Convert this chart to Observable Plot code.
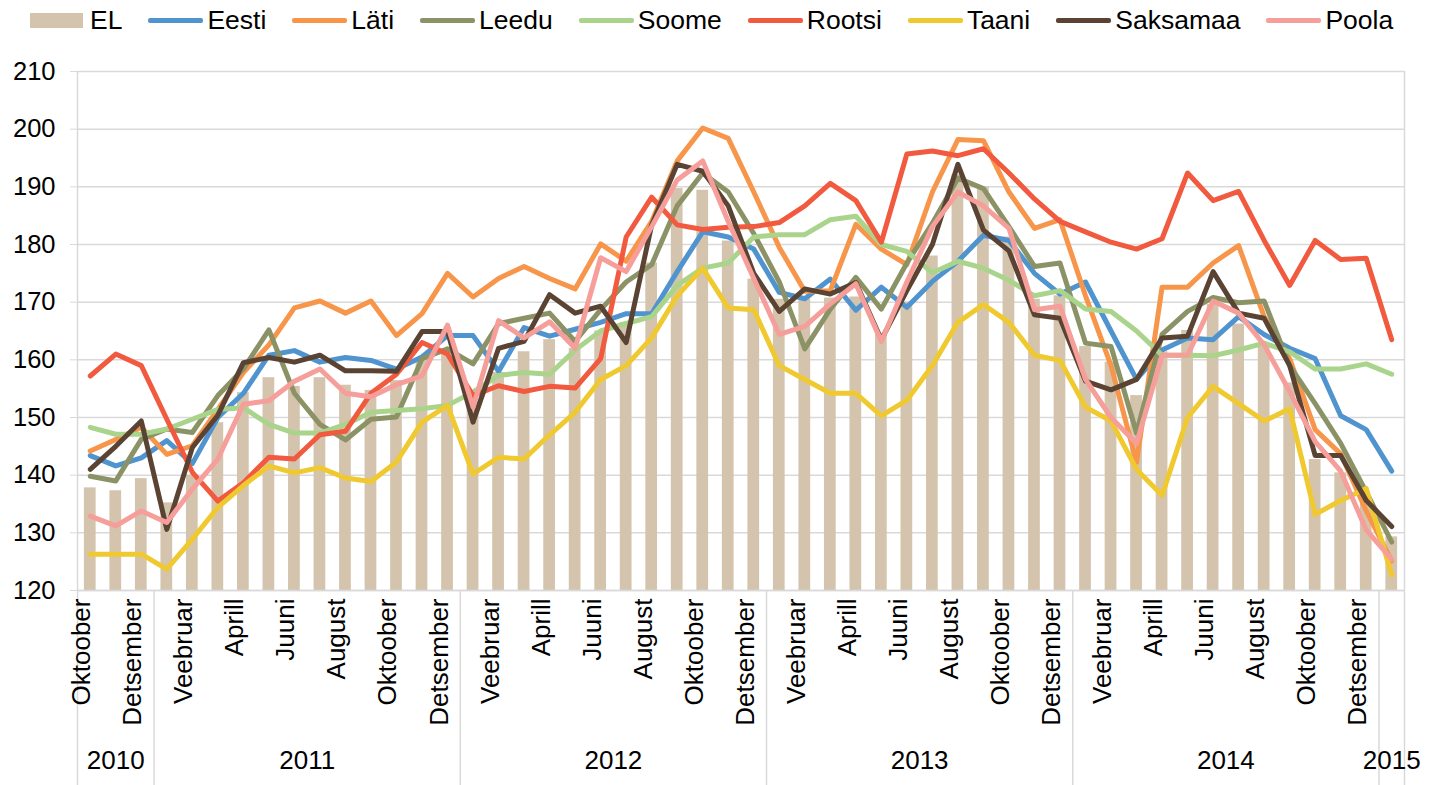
<!DOCTYPE html>
<html><head><meta charset="utf-8">
<script src="https://cdn.jsdelivr.net/npm/d3@7"></script>
<script src="https://cdn.jsdelivr.net/npm/@observablehq/plot@0.6"></script>
<style>
body{margin:0;background:#fff;font-family:"Liberation Sans",Arial,sans-serif;color:#000;}
#legend{height:40px;display:flex;align-items:center;padding-left:30px;font-size:26.5px;white-space:nowrap;}
.item{display:flex;align-items:center;margin-right:26px;}
.sw{width:55px;height:5px;margin-right:4px;border-radius:2px;}
.box{width:53px;height:15px;margin-right:7px;}
#chart svg{display:block;}
</style></head><body>
<div id="legend"></div><div id="chart"></div>
<script>
const months = [
 "Oktoober","November","Detsember",
 "Jaanuar","Veebruar","Märts","Aprill","Mai","Juuni","Juuli","August","September","Oktoober","November","Detsember",
 "Jaanuar","Veebruar","Märts","Aprill","Mai","Juuni","Juuli","August","September","Oktoober","November","Detsember",
 "Jaanuar","Veebruar","Märts","Aprill","Mai","Juuni","Juuli","August","September","Oktoober","November","Detsember",
 "Jaanuar","Veebruar","Märts","Aprill","Mai","Juuni","Juuli","August","September","Oktoober","November","Detsember",
 "Jaanuar"];
const years = ["2010","2011","2012","2013","2014","2015"];
const yearLengths = [3,12,12,12,12,1];
const yTicks = [120,130,140,150,160,170,180,190,200,210];

const EL = [137.8,137.3,139.4,135.2,140.0,149.1,154.3,156.9,155.4,156.9,155.6,154.7,156.4,160.2,161.0,153.5,
 157.8,161.4,163.5,162.0,165.0,166.5,176.8,189.7,189.4,180.6,174.0,170.5,
 170.6,170.7,170.9,164.4,170.0,178.0,192.1,190.0,181.3,170.5,171.1,162.3,
 159.6,153.8,161.4,165.1,169.6,166.2,162.6,156.0,142.7,140.4,135.0,129.3];
const Eesti = [143.4,141.6,143.0,146.0,142.0,150.0,154.2,160.8,161.6,159.6,160.4,159.9,158.4,160.5,164.2,164.2,
 158.0,165.6,164.1,165.3,166.5,168.0,168.0,175.3,182.2,181.3,179.2,171.7,
 170.6,174.0,168.6,172.6,169.1,173.6,177.1,181.6,180.7,175.0,171.4,173.5,
 165.0,156.6,161.7,163.8,163.5,167.5,164.4,162.0,160.2,150.3,147.9,140.7];
const Lati = [144.2,146.2,148.3,143.6,145.1,151.4,157.8,162.6,169.0,170.2,168.1,170.2,164.2,168.0,175.0,170.9,
 174.1,176.2,174.1,172.3,180.1,177.1,184.0,194.5,200.2,198.4,189.1,179.5,
 171.9,172.0,183.5,179.2,176.5,189.1,198.2,198.0,189.1,182.8,184.3,171.1,
 159.0,142.2,172.6,172.6,176.8,179.8,167.5,160.2,147.9,143.7,133.8,125.1];
const Leedu = [139.8,139.0,146.2,148.0,147.4,153.8,158.4,165.2,154.2,148.8,146.1,149.7,150.1,160.2,161.9,159.3,
 166.3,167.2,168.1,163.2,168.7,173.5,176.5,186.7,192.4,189.1,181.9,173.5,
 161.9,168.8,174.3,168.8,176.8,183.7,191.5,189.7,183.1,176.2,176.8,162.9,
 162.3,147.3,164.4,168.4,170.8,169.9,170.2,159.0,152.4,145.5,137.1,128.4];
const Soome = [148.3,147.1,147.1,148.0,149.7,151.4,151.7,148.8,147.3,147.3,148.8,150.9,151.2,151.5,152.1,154.4,
 157.3,157.8,157.5,161.7,165.0,166.3,167.5,172.9,175.9,176.8,181.3,181.7,
 181.7,184.3,184.9,180.0,178.8,175.1,177.1,175.9,173.8,171.1,172.0,168.8,
 168.4,165.0,160.8,160.8,160.7,161.7,162.9,161.4,158.4,158.4,159.3,157.5];
const Rootsi = [157.2,161.0,159.0,149.7,140.5,135.5,138.7,143.1,142.8,147.0,147.6,154.2,157.5,163.0,161.0,153.8,
 155.5,154.5,155.4,155.1,160.2,181.3,188.2,183.4,182.6,183.0,183.1,183.8,
 186.7,190.6,187.6,180.4,195.7,196.2,195.4,196.6,192.4,187.9,184.0,182.2,
 180.4,179.2,181.0,192.4,187.6,189.2,180.7,172.9,180.7,177.4,177.6,163.5];
const Taani = [126.3,126.3,126.3,123.7,128.9,134.4,138.2,141.6,140.4,141.3,139.5,138.9,142.3,149.2,152.1,140.2,
 143.1,142.8,147.0,150.9,156.6,159.0,163.8,171.1,175.9,169.0,168.7,159.0,
 156.6,154.2,154.2,150.3,153.0,159.0,166.5,169.6,166.5,160.8,159.9,151.8,
 149.4,141.0,136.5,150.0,155.4,152.4,149.4,151.5,133.2,135.6,137.7,122.7];
const Saksamaa = [141.0,145.0,149.4,130.6,144.8,150.4,159.5,160.4,159.6,160.8,158.1,158.1,158.0,164.9,164.9,149.2,
 162.0,163.2,171.3,168.1,169.3,163.0,183.4,193.9,192.7,186.7,175.0,168.4,
 172.3,171.4,173.4,163.5,172.0,180.0,193.9,182.5,178.9,167.8,167.2,156.3,
 154.8,156.6,163.8,164.1,175.3,168.1,167.2,159.0,143.4,143.4,135.6,131.1];
const Poola = [132.9,131.2,133.8,131.8,137.6,142.8,152.3,152.9,156.3,158.4,154.2,153.6,155.7,157.2,166.0,151.8,
 166.8,163.8,166.6,162.0,177.7,175.3,183.1,191.2,194.5,184.0,174.1,164.4,
 165.8,169.7,173.2,163.2,173.5,183.1,189.1,186.7,182.8,168.7,169.3,156.6,
 150.0,145.5,160.8,160.8,170.2,168.1,162.6,154.5,145.8,140.7,130.5,125.4];

const seriesNames = ["Eesti","Läti","Leedu","Soome","Rootsi","Taani","Saksamaa","Poola"];
const seriesValues = [Eesti,Lati,Leedu,Soome,Rootsi,Taani,Saksamaa,Poola];
const seriesColors = ["#4f93cf","#f7964a","#8b9366","#aad48c","#f15a3e","#efc92f","#5b4333","#f59e9a"];
const barName = "EL";
const barColor = "#d5c4ad";
const gridColor = "#d9d9d9";

// legend
const legend = document.getElementById("legend");
{
  const it = document.createElement("div"); it.className = "item";
  it.innerHTML = `<span class="box" style="background:${barColor}"></span><span>${barName}</span>`;
  legend.appendChild(it);
}
seriesNames.forEach((n,k) => {
  const it = document.createElement("div"); it.className = "item";
  it.innerHTML = `<span class="sw" style="background:${seriesColors[k]}"></span><span>${n}</span>`;
  legend.appendChild(it);
});

const barRows = EL.map((v,i) => ({i, v}));
const lineRows = seriesNames.flatMap((n,k) => seriesValues[k].map((v,i) => ({series:n, i, v})));
const tickRows = months.map((m,i) => ({i, m})).filter(d => d.i % 2 === 0);
let acc = 0;
const yearRows = years.map((y,k) => { const s = acc; acc += yearLengths[k]; return {year:y, start:s, len:yearLengths[k], center: s + (yearLengths[k]-1)/2}; });
const innerBounds = yearRows.slice(1).map(d => d.start - 0.5);
const outerBounds = [-0.5, months.length - 0.5];

const chart = Plot.plot({
  width: 1437, height: 745,
  marginLeft: 77, marginRight: 33, marginTop: 31, marginBottom: 195,
  style: {fontFamily: "'Liberation Sans', Arial, sans-serif", color: "#000", background: "#fff"},
  x: {domain: outerBounds, axis: null},
  y: {domain: [120, 210], axis: null},
  color: {domain: seriesNames, range: seriesColors},
  marks: [
    Plot.gridY(yTicks, {stroke: gridColor, strokeOpacity: 1, strokeWidth: 1.5}),
    Plot.rectY(barRows, {x1: d => d.i - 0.23, x2: d => d.i + 0.23, y1: 120, y2: "v", fill: barColor}),
    Plot.ruleY([120], {stroke: gridColor, strokeWidth: 1.5}),
    Plot.ruleX(outerBounds, {stroke: gridColor, strokeWidth: 1.5, insetBottom: -195}),
    Plot.ruleX(innerBounds, {stroke: gridColor, strokeWidth: 1.5, insetTop: 519, insetBottom: -195}),
    Plot.line(lineRows, {x: "i", y: "v", z: "series", stroke: "series", strokeWidth: 5, strokeLinejoin: "round", strokeLinecap: "round"}),
    Plot.axisY(yTicks, {anchor: "left", tickSize: 7, tickPadding: 15, fontSize: 25.5, stroke: gridColor, fill: "#000", label: null}),
    Plot.text(tickRows, {x: "i", text: "m", frameAnchor: "bottom", rotate: -90, textAnchor: "end", dy: 8, fontSize: 26, fill: "#000"}),
    Plot.text(yearRows, {x: "center", text: "year", frameAnchor: "bottom", dy: 178, fontSize: 26, fill: "#000"})
  ]
});
document.getElementById("chart").appendChild(chart);
</script>
</body></html>
